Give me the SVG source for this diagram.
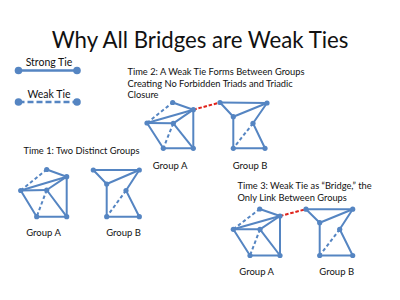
<svg xmlns="http://www.w3.org/2000/svg" width="400" height="300" viewBox="0 0 400 300">
<style>
text{font-family:Lato,"Open Sans","Liberation Sans",sans-serif;fill:#111}
.title{font-size:24px}
.cap{font-size:9.3px}
.lab{font-size:9.5px}
.leg{font-size:10.5px}
.s{stroke:#5585c2;stroke-width:2;fill:none;stroke-linecap:round}
.w{stroke:#5585c2;stroke-width:2;fill:none;stroke-dasharray:3.5 2.5}
.r{stroke:#e0241c;stroke-width:2;fill:none;stroke-dasharray:3.5 1.8}
.ls{stroke:#5585c2;stroke-width:2.6;fill:none}
.lw{stroke:#5585c2;stroke-width:2.6;fill:none;stroke-dasharray:6 3}
.n circle{fill:#5585c2}
</style>
<rect width="400" height="300" fill="#fff"/>
<text class="title" x="51.7" y="48" textLength="296.7" lengthAdjust="spacingAndGlyphs">Why All Bridges are Weak Ties</text>

<g id="legend">
<text class="leg" x="49" y="65.5" text-anchor="middle">Strong Tie</text>
<line class="ls" x1="18.5" y1="70.5" x2="77" y2="70.5"/>
<circle cx="18.5" cy="70.5" r="3.8" fill="#5585c2"/>
<circle cx="77" cy="70.5" r="3.8" fill="#5585c2"/>
<text class="leg" x="49" y="98" text-anchor="middle">Weak Tie</text>
<line class="lw" x1="18.5" y1="102" x2="77" y2="102"/>
<circle cx="18.5" cy="102" r="3.8" fill="#5585c2"/>
<circle cx="77" cy="102" r="3.8" fill="#5585c2"/>
</g>

<text class="cap" x="23.5" y="154">Time 1: Two Distinct Groups</text>
<text class="cap" x="127.5" y="75">Time 2: A Weak Tie Forms Between Groups</text>
<text class="cap" x="127.5" y="86.7">Creating No Forbidden Triads and Triadic</text>
<text class="cap" x="127.5" y="98.4">Closure</text>
<text class="cap" x="237.5" y="189">Time 3: Weak Tie as “Bridge,” the</text>
<text class="cap" x="237.5" y="200.7">Only Link Between Groups</text>

<g id="connectors">
<!-- Time 1 Group A -->
<line class="w" x1="20.7" y1="190.5" x2="46.7" y2="169.5"/>
<line class="s" x1="46.7" y1="169.5" x2="66.7" y2="176.7"/>
<line class="s" x1="20.7" y1="190.5" x2="66.7" y2="176.7"/>
<line class="s" x1="20.7" y1="190.5" x2="46.7" y2="190"/>
<line class="s" x1="46.7" y1="190" x2="66.7" y2="176.7"/>
<line class="s" x1="66.7" y1="176.7" x2="66.7" y2="216.7"/>
<line class="s" x1="20.7" y1="190.5" x2="36.7" y2="216.7"/>
<line class="w" x1="46.7" y1="190" x2="36.7" y2="216.7"/>
<line class="s" x1="46.7" y1="190" x2="66.7" y2="216.7"/>
<line class="s" x1="36.7" y1="216.7" x2="66.7" y2="216.7"/>
<!-- Time 1 Group B -->
<line class="s" x1="93.3" y1="170" x2="139.3" y2="170"/>
<line class="s" x1="93.3" y1="170" x2="106.7" y2="184"/>
<line class="s" x1="106.7" y1="184" x2="139.3" y2="170"/>
<line class="s" x1="139.3" y1="170" x2="126" y2="190.5"/>
<line class="s" x1="106.7" y1="184" x2="106.7" y2="216.7"/>
<line class="w" x1="126" y1="190.5" x2="106.7" y2="216.7"/>
<line class="s" x1="126" y1="190.5" x2="139.3" y2="216.7"/>
<line class="s" x1="106.7" y1="216.7" x2="139.3" y2="216.7"/>

<!-- Time 2 Group A -->
<line class="w" x1="147" y1="123" x2="172.7" y2="102.5"/>
<line class="s" x1="172.7" y1="102.5" x2="193.3" y2="109.7"/>
<line class="s" x1="147" y1="123" x2="193.3" y2="109.7"/>
<line class="s" x1="147" y1="123" x2="173.3" y2="123.3"/>
<line class="s" x1="173.3" y1="123.3" x2="193.3" y2="109.7"/>
<line class="s" x1="193.3" y1="109.7" x2="193.3" y2="148.3"/>
<line class="s" x1="147" y1="123" x2="163.3" y2="148.3"/>
<line class="w" x1="173.3" y1="123.3" x2="163.3" y2="148.3"/>
<line class="s" x1="173.3" y1="123.3" x2="193.3" y2="148.3"/>
<line class="s" x1="163.3" y1="148.3" x2="193.3" y2="148.3"/>
<!-- Time 2 Group B -->
<line class="s" x1="220" y1="102.5" x2="267" y2="103"/>
<line class="s" x1="220" y1="102.5" x2="233.3" y2="116.7"/>
<line class="s" x1="233.3" y1="116.7" x2="267" y2="103"/>
<line class="s" x1="267" y1="103" x2="253" y2="123.3"/>
<line class="s" x1="233.3" y1="116.7" x2="233.3" y2="148.3"/>
<line class="w" x1="253" y1="123.3" x2="233.3" y2="148.3"/>
<line class="s" x1="253" y1="123.3" x2="265" y2="148.3"/>
<line class="s" x1="233.3" y1="148.3" x2="265" y2="148.3"/>
<line class="r" x1="193.3" y1="109.7" x2="220" y2="102.5"/>

<!-- Time 3 Group A -->
<line class="w" x1="233.3" y1="229.3" x2="259.7" y2="209"/>
<line class="s" x1="259.7" y1="209" x2="280" y2="216"/>
<line class="s" x1="233.3" y1="229.3" x2="280" y2="216"/>
<line class="s" x1="233.3" y1="229.3" x2="260" y2="229.3"/>
<line class="s" x1="260" y1="229.3" x2="280" y2="216"/>
<line class="s" x1="280" y1="216" x2="280" y2="255.5"/>
<line class="s" x1="233.3" y1="229.3" x2="250" y2="255.5"/>
<line class="w" x1="260" y1="229.3" x2="250" y2="255.5"/>
<line class="s" x1="260" y1="229.3" x2="280" y2="255.5"/>
<line class="s" x1="250" y1="255.5" x2="280" y2="255.5"/>
<!-- Time 3 Group B -->
<line class="s" x1="306" y1="209.2" x2="352.7" y2="209.2"/>
<line class="s" x1="306" y1="209.2" x2="319.7" y2="222.7"/>
<line class="s" x1="319.7" y1="222.7" x2="352.7" y2="209.2"/>
<line class="s" x1="352.7" y1="209.2" x2="339.7" y2="229.3"/>
<line class="s" x1="319.7" y1="222.7" x2="319.7" y2="255.5"/>
<line class="w" x1="339.7" y1="229.3" x2="319.7" y2="255.5"/>
<line class="s" x1="339.7" y1="229.3" x2="352.7" y2="255.5"/>
<line class="s" x1="319.7" y1="255.5" x2="352.7" y2="255.5"/>
<line class="r" x1="280" y1="216" x2="306" y2="209.2"/>
</g>

<g id="t1-groupA" class="n">
<circle cx="46.7" cy="169.5" r="2.6"/><circle cx="66.7" cy="176.7" r="2.6"/><circle cx="20.7" cy="190.5" r="2.6"/>
<circle cx="46.7" cy="190" r="2.6"/><circle cx="36.7" cy="216.7" r="2.6"/><circle cx="66.7" cy="216.7" r="2.6"/>
<text class="lab" x="43.5" y="236" text-anchor="middle">Group A</text>
</g>
<g id="t1-groupB" class="n">
<circle cx="93.3" cy="170" r="2.6"/><circle cx="139.3" cy="170" r="2.6"/><circle cx="106.7" cy="184" r="2.6"/>
<circle cx="126" cy="190.5" r="2.6"/><circle cx="106.7" cy="216.7" r="2.6"/><circle cx="139.3" cy="216.7" r="2.6"/>
<text class="lab" x="123.5" y="236" text-anchor="middle">Group B</text>
</g>
<g id="t2-groupA" class="n">
<circle cx="172.7" cy="102.5" r="2.6"/><circle cx="193.3" cy="109.7" r="2.6"/><circle cx="147" cy="123" r="2.6"/>
<circle cx="173.3" cy="123.3" r="2.6"/><circle cx="163.3" cy="148.3" r="2.6"/><circle cx="193.3" cy="148.3" r="2.6"/>
<text class="lab" x="170" y="168.5" text-anchor="middle">Group A</text>
</g>
<g id="t2-groupB" class="n">
<circle cx="220" cy="102.5" r="2.6"/><circle cx="267" cy="103" r="2.6"/><circle cx="233.3" cy="116.7" r="2.6"/>
<circle cx="253" cy="123.3" r="2.6"/><circle cx="233.3" cy="148.3" r="2.6"/><circle cx="265" cy="148.3" r="2.6"/>
<text class="lab" x="250" y="168.5" text-anchor="middle">Group B</text>
</g>
<g id="t3-groupA" class="n">
<circle cx="259.7" cy="209" r="2.6"/><circle cx="280" cy="216" r="2.6"/><circle cx="233.3" cy="229.3" r="2.6"/>
<circle cx="260" cy="229.3" r="2.6"/><circle cx="250" cy="255.5" r="2.6"/><circle cx="280" cy="255.5" r="2.6"/>
<text class="lab" x="256.7" y="275" text-anchor="middle">Group A</text>
</g>
<g id="t3-groupB" class="n">
<circle cx="306" cy="209.2" r="2.6"/><circle cx="352.7" cy="209.2" r="2.6"/><circle cx="319.7" cy="222.7" r="2.6"/>
<circle cx="339.7" cy="229.3" r="2.6"/><circle cx="319.7" cy="255.5" r="2.6"/><circle cx="352.7" cy="255.5" r="2.6"/>
<text class="lab" x="336.7" y="275" text-anchor="middle">Group B</text>
</g>
</svg>
